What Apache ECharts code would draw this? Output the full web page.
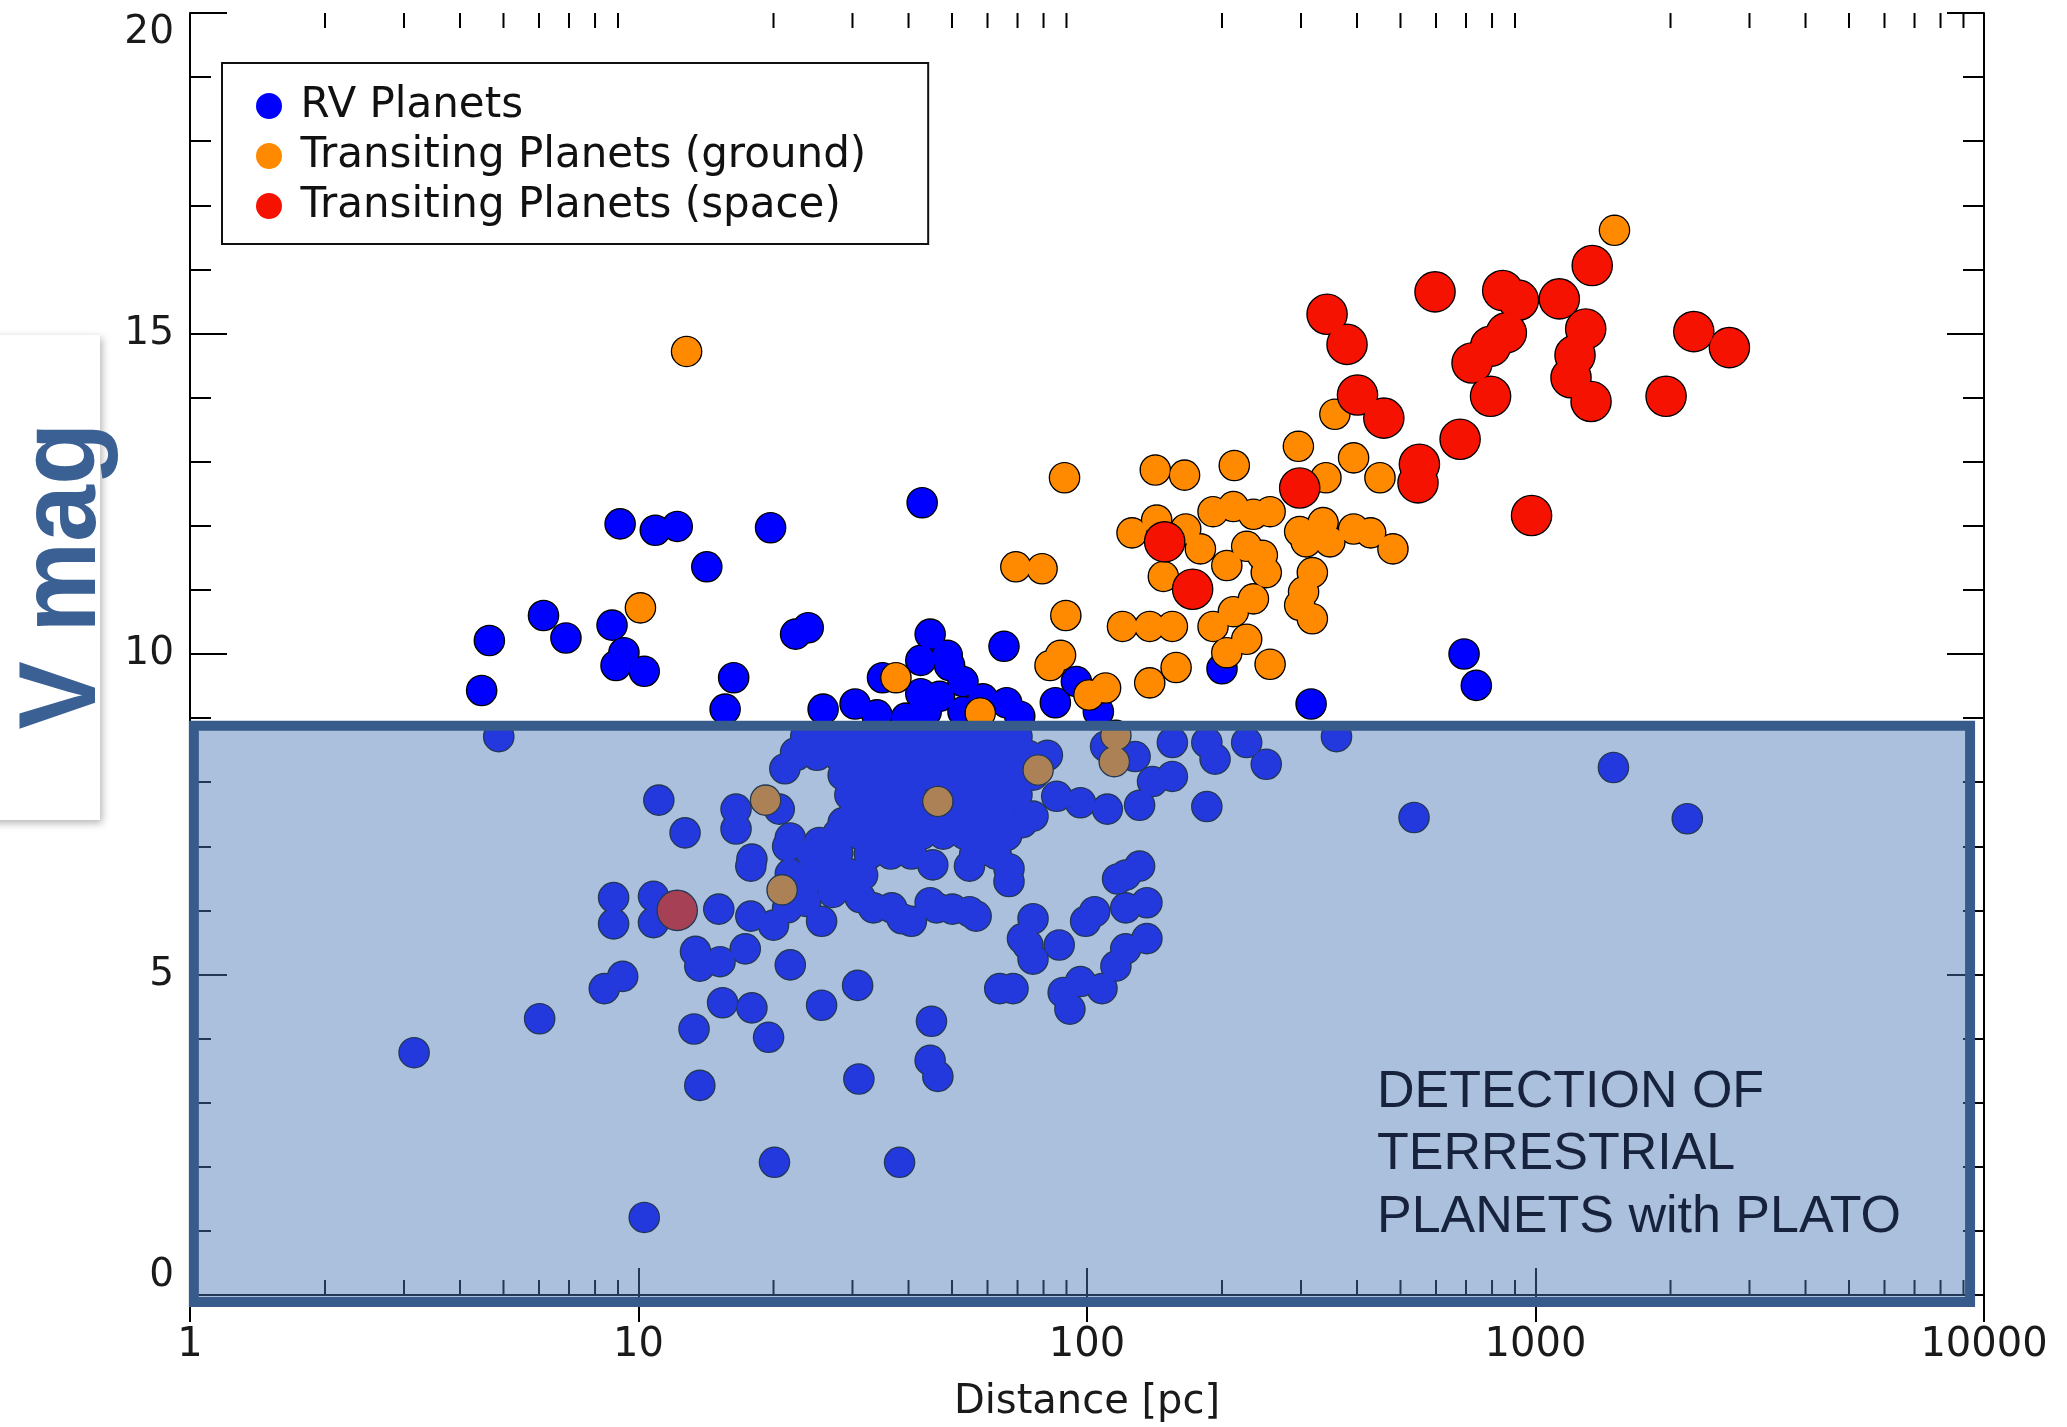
<!DOCTYPE html>
<html><head><meta charset="utf-8">
<script src="https://cdn.jsdelivr.net/npm/echarts@6/dist/echarts.min.js"></script>
<style>html,body{margin:0;padding:0;background:#fff}#chart{width:2067px;height:1427px}</style>
</head><body><div id="chart"></div>
<script>
// ---- data (distance [pc], V mag) ----
const seriesNames = ['RV Planets', 'Transiting Planets (ground)', 'Transiting Planets (space)'];
const xTickValues = [1, 10, 100, 1000, 10000];
const yTickValues = [0, 5, 10, 15, 20];
const minorDistTicks = [2,3,4,5,6,7,8,9,20,30,40,50,60,70,80,90,200,300,400,500,600,700,800,900,2000,3000,4000,5000,6000,7000,8000,9000];

const rvPlanets = [
  [4.47,9.43],[4.65,10.21],[6.14,10.60],[6.89,10.25],[8.73,10.45],[9.28,10.02],[8.91,9.82],[10.3,9.73],
  [9.10,12.03],[10.9,11.93],[12.2,11.99],[14.2,11.36],[19.7,11.97],[22.4,10.31],[23.9,10.41],[16.3,9.63],
  [15.6,9.14],[42.9,12.36],[65.3,10.12],[25.8,9.14],[30.4,9.22],[35.0,9.63],[44.7,10.31],[42.6,9.90],
  [48.8,9.98],[49.4,9.82],[42.6,9.38],[46.9,9.34],[52.9,9.57],[43.8,9.10],[52.9,9.10],[58.6,9.30],
  [66.2,9.24],[70.8,9.03],[85.0,9.24],[94.7,9.57],[106,9.10],[200,9.77],[316,9.22],[693,10.00],[738,9.51],
  [39.5,9.00],[34.0,9.05],
  [4.88,8.71],[3.16,3.78],[6.02,4.31],[8.39,4.78],[9.22,4.97],[8.80,6.20],[8.80,5.79],[10.8,6.22],[10.8,5.81],
  [11.1,7.72],[12.7,7.21],[15.1,6.02],[13.4,5.36],[15.2,5.20],[17.3,5.40],[20.0,5.77],[17.8,5.91],[13.7,5.13],
  [17.8,6.69],[16.5,7.58],[16.5,7.27],[20.6,7.58],[21.8,7.13],[21.2,8.21],[22.4,8.46],[25.6,6.92],[25.6,5.83],
  [21.8,5.15],[25.6,4.52],[30.8,4.83],[45.0,4.27],[44.7,3.66],[46.5,3.41],[31.0,3.37],[38.2,2.07],[20.1,2.07],
  [10.3,1.21],[13.7,3.27],[13.3,4.15],[19.5,4.02],[15.4,4.56],[17.9,4.48],[17.9,6.80],[21.5,7.00],[23.9,6.49],
  [27.8,6.90],[31.2,6.20],[33.4,6.04],[36.7,6.04],[38.7,5.87],[40.6,5.83],[44.7,6.12],[46.2,6.04],[50.1,6.02],
  [54.7,5.98],[56.6,5.91],[45.3,6.71],[54.7,6.69],[67.0,6.65],[67.0,6.45],[117,6.49],[122,6.55],[131,6.69],
  [122,6.04],[136,6.12],[122,5.40],[136,5.56],[116,5.13],[108,4.78],[96.7,4.89],[88.5,4.72],[91.6,4.46],
  [86.7,5.46],[99.3,5.83],[104,5.98],[75.8,5.87],[71.8,5.56],[75.8,5.24],[63.9,4.78],[68.4,4.78],[73.8,5.46],
  [360,8.71],[536,7.45],[1492,8.23],[2180,7.43],[155,8.62],[185,8.62],[193,8.36],[227,8.62],[251,8.28],
  [185,7.62],[155,8.09],[140,8.01],[131,7.64],[111,7.58],[96.7,7.68],[85.6,7.78],[71.8,7.37],[66.2,7.17],
  [75.8,7.47],[128,8.40],[110,8.56],
  [23.6,8.71],[26.4,8.71],[29.6,8.71],[32.7,8.71],[36.5,8.71],[40.6,8.71],[45.3,8.71],[50.5,8.71],[56.2,8.71],[63.1,8.71],[69.8,8.71],
  [22.5,8.42],[25.0,8.42],[27.8,8.42],[31.0,8.42],[34.5,8.42],[38.5,8.42],[42.9,8.42],[47.8,8.42],[53.3,8.42],[59.4,8.42],[66.2,8.42],[73.8,8.42],[81.6,8.42],
  [28.6,8.11],[31.8,8.11],[35.5,8.11],[39.5,8.11],[44.1,8.11],[49.1,8.11],[54.7,8.11],[61.0,8.11],[68.0,8.11],[75.8,8.11],
  [29.6,7.80],[32.7,7.80],[36.5,7.80],[40.6,7.80],[50.5,7.80],[56.2,7.80],[62.7,7.80],[69.8,7.80],
  [28.6,7.37],[30.2,7.49],[33.6,7.49],[37.5,7.49],[41.8,7.49],[46.5,7.49],[51.8,7.49],[57.8,7.49],[64.4,7.49],
  [25.3,7.06],[27.8,7.19],[31.0,7.19],[34.5,7.19],[38.5,7.19],[42.9,7.19],[47.8,7.19],[53.3,7.19],[59.4,7.19],
  [24.3,6.88],[27.1,6.88],[32.7,6.88],[36.5,6.88],[40.6,6.88],[56.2,6.88],[62.7,6.88],
  [21.8,6.57],[26.4,6.57],[29.6,6.57],[23.3,6.28],[27.1,6.28],
  [23.6,6.14],[28.6,6.49],[21.5,6.04],[31.6,6.55]
];

const groundTransits = [
  [12.8,14.72],[10.1,10.72],[37.5,9.63],[69.4,11.36],[79.4,11.33],[89.1,12.75],[89.7,10.60],[82.7,9.82],
  [87.3,9.98],[101,9.36],[110,9.47],[57.8,9.08],[120,10.43],[138,10.43],[155,10.43],[138,9.55],[158,9.79],
  [142,12.87],[165,12.79],[213,12.94],[126,11.89],[143,12.09],[166,11.95],[179,11.64],[191,12.22],[212,12.30],
  [235,12.18],[256,12.22],[148,11.21],[205,11.38],[227,11.68],[246,11.54],[251,11.27],[298,11.91],[336,12.05],
  [393,11.95],[429,11.89],[481,11.64],[308,11.75],[348,11.75],[318,11.27],[304,10.97],[298,10.76],[318,10.55],
  [191,10.43],[212,10.66],[235,10.86],[205,10.02],[227,10.23],[256,9.84],[296,13.24],[341,12.75],[393,13.06],
  [450,12.75],[357,13.74],[1500,16.61],
  [19.2,7.72],[20.9,6.32],[46.5,7.70],[77.8,8.19],[116,8.73],[115,8.32]
];

const spaceTransits = [
  [343,15.30],[380,14.83],[597,15.65],[845,15.67],[916,15.52],[1130,15.54],[1338,16.06],[861,15.01],
  [794,14.80],[722,14.54],[794,14.02],[1294,15.07],[1225,14.66],[1200,14.31],[1330,13.94],[2254,15.03],
  [2706,14.78],[1955,14.02],[401,14.04],[459,13.68],[679,13.35],[551,12.96],[547,12.67],[980,12.16],
  [298,12.59],[149,11.75],[172,11.01],
  [12.2,6.00]
];

// PLATO detection region: [distance min, V top, distance max, V bottom]
const platoRegion = [1.02, 8.88, 9310, -0.11];

const tickFont = '"DejaVu Sans", "Liberation Sans", sans-serif';
const black = '#000';

const chart = echarts.init(document.getElementById('chart'), null, {renderer: 'canvas'});

const yAxisBase = {
  type: 'value', min: 0, max: 20, interval: 5,
  axisLine: {show: true, lineStyle: {color: black, width: 2}},
  axisTick: {show: true, inside: true, length: 37, lineStyle: {color: black, width: 2}},
  minorTick: {show: true, splitNumber: 5, length: 21, lineStyle: {color: black, width: 2}},
  splitLine: {show: false}, minorSplitLine: {show: false}
};
const xAxisBase = {
  type: 'log', logBase: 10, min: 1, max: 10000,
  axisLine: {show: true, lineStyle: {color: black, width: 2}},
  axisTick: {show: true, inside: true, length: 27, lineStyle: {color: black, width: 2}},
  splitLine: {show: false}
};

// each group is drawn twice: outlined marks, then a fill-only pass so overlapping marks merge
function pointSeries(data, color, size, legendName) {
  return [
    {type: 'scatter', name: legendName, data: data, symbolSize: size,
      itemStyle: {color: color, borderColor: black, borderWidth: 1.6, opacity: 1}},
    {type: 'scatter', name: legendName + ' fill', data: data, symbolSize: size - 1.2, silent: true,
      itemStyle: {color: color, borderWidth: 0, opacity: 1}}
  ];
}

chart.setOption({
  animation: false,
  backgroundColor: '#fff',
  grid: {left: 190, top: 13, right: 83, bottom: 132, containLabel: false, outerBoundsMode: 'none'},
  legend: {
    data: seriesNames,
    orient: 'vertical',
    left: 222, top: 63,
    padding: [22, 62, 17, 34],
    itemGap: 8,
    itemWidth: 53, itemHeight: 26,
    icon: 'circle',
    itemStyle: {borderWidth: 0},
    borderColor: '#111', borderWidth: 2, backgroundColor: '#fff',
    textStyle: {fontFamily: tickFont, fontSize: 42, lineHeight: 40, color: '#111'},
    selectedMode: false
  },
  xAxis: [
    Object.assign({}, xAxisBase, {
      position: 'bottom',
      name: 'Distance [pc]', nameLocation: 'middle', nameGap: 88,
      nameTextStyle: {fontFamily: tickFont, fontSize: 40, color: '#1a1a1a'},
      axisLabel: {
        show: true, margin: 31, fontFamily: tickFont, fontSize: 40, color: '#1a1a1a',
        formatter: v => String(xTickValues.find(t => Math.abs(t - v) / t < 1e-6) ?? Math.round(v))
      }
    }),
    Object.assign({}, xAxisBase, {position: 'top', axisLabel: {show: false}})
  ],
  yAxis: [
    Object.assign({}, yAxisBase, {
      position: 'left',
      axisLabel: {
        show: true, margin: 16, fontFamily: tickFont, fontSize: 39, color: '#1a1a1a',
        verticalAlignMinLabel: 'bottom', verticalAlignMaxLabel: 'top',
        formatter: v => String(yTickValues.find(t => t === v) ?? v)
      }
    }),
    Object.assign({}, yAxisBase, {position: 'right', axisLabel: {show: false}})
  ],
  series: [
    {
      type: 'custom', name: 'minorTicks', silent: true, clip: false, z: 1,
      xAxisIndex: 0, yAxisIndex: 0,
      data: minorDistTicks.map(v => [v, 0]),
      renderItem: (params, api) => {
        const v = api.value(0);
        const b = api.coord([v, 0]);
        const t = api.coord([v, 20]);
        return {type: 'group', children: [
          {type: 'line', shape: {x1: b[0], y1: b[1], x2: b[0], y2: b[1] - 15}, style: {stroke: black, lineWidth: 2}},
          {type: 'line', shape: {x1: t[0], y1: t[1], x2: t[0], y2: t[1] + 15}, style: {stroke: black, lineWidth: 2}}
        ]};
      }
    },
    ...pointSeries(rvPlanets, '#0000ff', 30, seriesNames[0]),
    ...pointSeries(groundTransits, '#ff8a00', 30, seriesNames[1]),
    ...pointSeries(spaceTransits, '#f51200', 40, seriesNames[2]),
    {
      type: 'custom', name: 'platoRegion', silent: true, clip: false, z: 5,
      data: [platoRegion],
      renderItem: (params, api) => {
        const a = api.coord([api.value(0), api.value(1)]);
        const b = api.coord([api.value(2), api.value(3)]);
        return {type: 'rect',
          shape: {x: a[0], y: a[1], width: b[0] - a[0], height: b[1] - a[1]},
          style: {fill: 'rgba(76,120,182,0.465)', stroke: '#375b8b', lineWidth: 10}};
      }
    }
  ],
  graphic: [
    {type: 'rect', x: -20, y: 335, z: 90, shape: {width: 120, height: 485},
      style: {fill: '#fff', shadowBlur: 8, shadowColor: 'rgba(0,0,0,0.3)', shadowOffsetX: 2, shadowOffsetY: 3}},
    {type: 'text', x: 65, y: 576, rotation: Math.PI / 2, scaleX: 0.93, z: 100,
      style: {text: 'V mag', font: 'bold 110px "Liberation Sans", Arial, sans-serif', fill: '#3a6094',
        align: 'center', verticalAlign: 'middle'}},
    {type: 'text', x: 1377, y: 1061, z: 100,
      style: {text: 'DETECTION OF\nTERRESTRIAL\nPLANETS with PLATO', font: '52px "Liberation Sans", Arial, sans-serif',
        lineHeight: 62.5, fill: '#17233d', align: 'left', verticalAlign: 'top'}}
  ]
});
</script></body></html>
